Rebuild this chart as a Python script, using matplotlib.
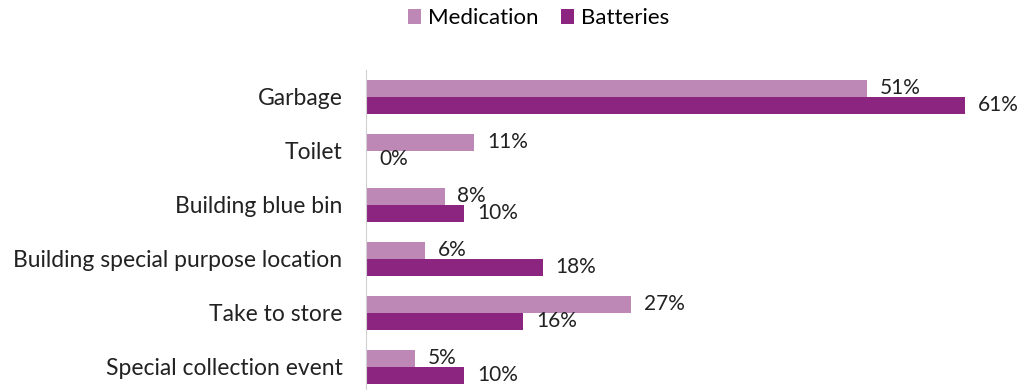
import matplotlib.pyplot as plt
import numpy as np

categories = ["Garbage", "Toilet", "Building blue bin",
              "Building special purpose location", "Take to store",
              "Special collection event"]
medication = [51, 11, 8, 6, 27, 5]
batteries = [61, 0, 10, 18, 16, 10]

med_color = "#BD88B5"
bat_color = "#8C2580"

plt.rcParams["font.family"] = ["Lato", "DejaVu Sans"]

fig = plt.figure(figsize=(10.2, 3.9), dpi=100)
ax = fig.add_axes([0.359, 0.0, 0.635, 0.8205])

y = np.arange(len(categories))
h = 0.315
b1 = ax.barh(y - h / 2, medication, height=h, color=med_color, label="Medication")
b2 = ax.barh(y + h / 2, batteries, height=h, color=bat_color, label="Batteries")

for bars, vals in ((b1, medication), (b2, batteries)):
    for bar, v in zip(bars, vals):
        ax.text(v + 1.3, bar.get_y() + bar.get_height() / 2, f"{v}%",
                va="center", ha="left", fontsize=15, color="#222222")

ax.set_xlim(0, 66)
ax.set_ylim(5.43, -0.5)
ax.set_yticks(y)
ax.set_yticklabels(categories, fontsize=16.5, color="#222222")
ax.tick_params(axis="y", length=0, pad=17)
ax.set_xticks([])
for s in ["top", "right", "bottom"]:
    ax.spines[s].set_visible(False)
ax.spines["left"].set_color("#D0D0D0")

fig.legend(handles=[b1, b2], loc="upper center", bbox_to_anchor=(0.528, 1.03),
           ncol=2, frameon=False, fontsize=16, handlelength=0.6,
           handleheight=0.6, handletextpad=0.3, columnspacing=1.0)

fig.savefig("out.png", dpi=100)
